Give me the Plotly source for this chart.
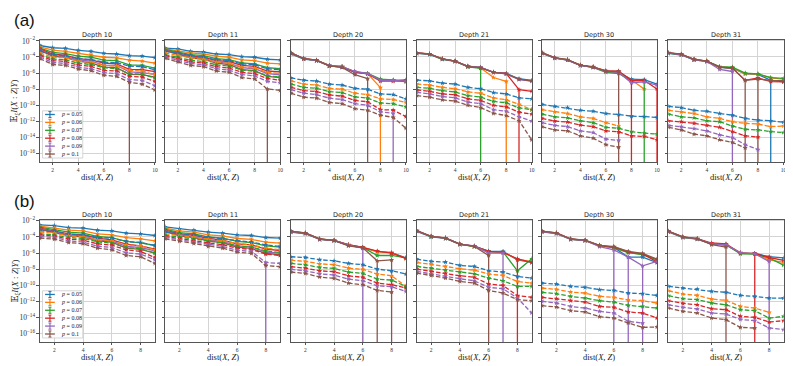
import plotly.graph_objects as go
from plotly.subplots import make_subplots

COLORS = ["#1f77b4", "#ff7f0e", "#2ca02c", "#d62728", "#9467bd", "#8c564b"]
P_VALUES = ["0.05", "0.06", "0.07", "0.08", "0.09", "0.1"]
DEPTHS = [10, 11, 20, 21, 30, 31]
DIST_A = [1, 2, 3, 4, 5, 6, 7, 8, 9, 10]
DIST_B = [1, 2, 3, 4, 5, 6, 7, 8, 9]

# values as log10, one row per p (0.05 ... 0.1)
# ---------------- (a) ----------------
A_D10_SOLID = [
    [-2.57, -2.85, -2.93, -3.18, -3.30, -3.54, -3.63, -3.83, -3.90, -4.07],
    [-2.73, -3.14, -3.30, -3.54, -3.70, -4.03, -4.11, -4.40, -4.52, -4.76],
    [-2.90, -3.42, -3.58, -3.90, -4.03, -4.40, -4.44, -4.97, -5.05, -5.37],
    [-3.00, -3.63, -3.79, -4.20, -4.36, -4.76, -4.85, -5.54, -5.58, -5.82],
    [-3.10, -3.79, -3.95, -4.36, -4.52, -5.00, -5.05, -5.86, -5.94, -6.15],
    [-3.18, -3.90, -4.07, -4.52, -4.72, -5.25, -5.33, -6.15, -6.20, -6.50],
]
A_D10_DASHED = [
    [-3.30, -3.70, -3.83, -4.20, -4.32, -4.64, -4.72, -5.13, -5.20, -5.58],
    [-3.50, -4.00, -4.11, -4.52, -4.64, -5.05, -5.13, -5.66, -5.74, -6.23],
    [-3.70, -4.24, -4.36, -4.76, -4.93, -5.33, -5.46, -6.07, -6.15, -6.63],
    [-3.83, -4.44, -4.56, -5.00, -5.17, -5.66, -5.74, -6.40, -6.51, -7.04],
    [-4.00, -4.68, -4.80, -5.25, -5.46, -5.94, -6.07, -6.80, -6.92, -7.57],
    [-4.20, -4.93, -5.05, -5.50, -5.70, -6.27, -6.40, -7.13, -7.37, -8.10],
]
A_D10_DROPS = [("dashed", 5, 8)]

A_D11_SOLID = [
    [-2.90, -3.00, -3.30, -3.38, -3.63, -3.70, -3.95, -4.03, -4.28, -4.36],
    [-2.98, -3.22, -3.50, -3.63, -3.90, -4.03, -4.36, -4.44, -4.76, -4.85],
    [-3.06, -3.38, -3.70, -3.83, -4.20, -4.32, -4.72, -4.85, -5.33, -5.46],
    [-3.14, -3.50, -3.87, -4.03, -4.44, -4.56, -5.05, -5.17, -5.74, -5.86],
    [-3.18, -3.58, -4.00, -4.16, -4.60, -4.76, -5.33, -5.46, -6.07, -6.23],
    [-3.22, -3.67, -4.11, -4.28, -4.76, -4.93, -5.58, -5.70, -6.40, -6.55],
]
A_D11_DASHED = [
    [-3.30, -3.54, -3.83, -4.00, -4.32, -4.44, -4.85, -4.97, -5.46, -5.58],
    [-3.50, -3.79, -4.11, -4.28, -4.64, -4.80, -5.25, -5.37, -5.90, -6.07],
    [-3.70, -4.03, -4.40, -4.56, -4.97, -5.13, -5.62, -5.78, -6.35, -6.47],
    [-3.83, -4.20, -4.60, -4.76, -5.20, -5.37, -5.90, -6.07, -6.67, -6.88],
    [-4.00, -4.40, -4.80, -4.97, -5.46, -5.62, -6.19, -6.35, -7.04, -7.20],
    [-4.16, -4.60, -5.05, -5.20, -5.74, -5.90, -6.55, -6.72, -7.98, -8.15],
]
A_D11_DROPS = [("dashed", 5, 9)]

A_D20_SOLID = [
    [-3.60, -4.25, -4.45, -5.10, -5.25, -5.90, -6.10, -6.85, -6.90, -6.85],
    [-3.50, -4.20, -4.40, -5.05, -5.20, -5.85, -6.05, -7.80, None, None],
    [-3.55, -4.20, -4.45, -5.05, -5.20, -5.85, -6.05, -6.75, -6.85, -7.10],
    [-3.50, -4.20, -4.40, -5.10, -5.25, -5.85, -6.10, -7.00, -7.00, -6.95],
    [-3.50, -4.20, -4.45, -5.05, -5.20, -5.80, -6.05, -6.90, -6.90, -7.00],
    [-3.50, -4.20, -4.40, -5.10, -5.30, -6.20, -6.70, None, None, None],
]
A_D20_DASHED = [
    [-6.59, -6.88, -7.00, -7.37, -7.49, -7.89, -8.00, -8.59, -8.67, -9.20],
    [-6.96, -7.37, -7.49, -7.89, -8.00, -8.50, -8.67, -9.20, -9.28, -9.64],
    [-7.37, -7.77, -7.89, -8.30, -8.42, -8.95, -9.11, -9.72, -9.80, -10.20],
    [-7.77, -8.18, -8.30, -8.70, -8.87, -9.40, -9.56, -10.54, -10.60, -11.40],
    [-8.06, -8.50, -8.67, -9.11, -9.28, -9.80, -10.00, -10.80, -11.00, None],
    [-8.50, -8.99, -9.11, -9.64, -9.80, -10.41, -10.62, -11.23, -11.50, -12.85],
]
A_D20_DROPS = [("solid", 1, 8), ("solid", 5, 7), ("dashed", 4, 9)]

A_D21_SOLID = [
    [-3.55, -3.68, -4.28, -4.55, -5.20, -5.33, -5.90, -6.05, -6.70, -6.92],
    [-3.50, -3.60, -4.24, -4.50, -5.15, -5.35, -6.55, -7.04, None, None],
    [-3.52, -3.65, -4.26, -4.52, -5.22, -5.40, None, None, None, None],
    [-3.48, -3.62, -4.22, -4.50, -5.17, -5.33, -5.92, -6.05, -8.06, -8.26],
    [-3.50, -3.63, -4.24, -4.52, -5.15, -5.28, -5.88, -6.10, -6.80, -7.00],
    [-3.50, -3.63, -4.24, -4.52, -5.17, -5.33, -5.90, -6.08, -6.76, -6.98],
]
A_D21_DASHED = [
    [-6.88, -6.96, -7.24, -7.37, -7.77, -7.94, -8.42, -8.59, -9.07, -9.20],
    [-7.37, -7.49, -7.77, -7.94, -8.34, -8.50, -9.07, -9.32, -9.89, -10.54],
    [-7.77, -7.89, -8.18, -8.34, -8.79, -8.99, -9.52, -9.68, -10.33, -10.54],
    [-8.10, -8.26, -8.59, -8.70, -9.20, -9.40, -10.00, -10.20, -10.86, -11.10],
    [-8.38, -8.59, -8.91, -9.07, -9.60, -9.80, -10.54, -10.74, -11.43, -11.96],
    [-8.79, -8.99, -9.32, -9.48, -10.00, -10.29, -11.00, -11.27, -11.92, -14.30],
]
A_D21_DROPS = [("solid", 2, 6), ("solid", 1, 8), ("solid", 3, 9)]

A_D30_SOLID = [
    [-3.55, -4.15, -4.38, -5.05, -5.25, -5.80, -5.90, -6.76, -6.80, -7.38],
    [-3.50, -4.10, -4.35, -5.00, -5.20, -5.75, -5.95, -6.85, -7.98, None],
    [-3.52, -4.12, -4.36, -5.05, -5.30, -5.90, -6.05, -6.95, -6.95, None],
    [-3.48, -4.10, -4.35, -5.02, -5.25, -5.70, -5.75, -6.90, -6.90, -7.98],
    [-3.50, -4.12, -4.38, -5.05, -5.28, -5.78, -5.92, -7.20, -7.10, -7.50],
    [-3.45, -4.08, -4.33, -5.00, -5.25, -5.75, -5.80, None, None, None],
]
A_D30_DASHED = [
    [-9.89, -10.13, -10.29, -10.62, -10.74, -11.02, -11.15, -11.35, -11.40, -11.51],
    [-10.54, -10.82, -11.02, -11.43, -11.63, -12.16, -12.57, None, None, None],
    [-11.10, -11.43, -11.55, -11.92, -12.16, -12.73, -12.85, -13.26, -13.46, -13.58],
    [-11.63, -11.96, -12.08, -12.45, -12.65, -13.18, -13.30, -13.79, -13.87, -14.28],
    [-12.16, -12.49, -12.65, -13.18, -13.38, -14.20, -14.36, None, None, None],
    [-12.65, -13.06, -13.18, -13.79, -14.07, -14.89, -15.20, None, None, None],
]
A_D30_DROPS = [("solid", 5, 7), ("solid", 3, 8), ("solid", 2, 9), ("solid", 3, 10)]

A_D31_SOLID = [
    [-3.55, -3.75, -4.35, -4.55, -5.30, -5.40, -6.10, -6.15, -6.90, -7.10],
    [-3.50, -3.68, -4.30, -4.50, -5.25, -5.35, -6.05, -6.12, -6.60, -6.75],
    [-3.52, -3.70, -4.32, -4.52, -5.20, -5.25, -6.00, -6.10, -6.55, -6.65],
    [-3.48, -3.68, -4.30, -4.52, -5.25, -5.35, -6.90, -6.60, -7.05, -7.10],
    [-3.50, -3.70, -4.35, -4.55, -5.55, -5.80, None, None, None, None],
    [-3.45, -3.65, -4.30, -4.50, -5.25, -5.40, -6.90, -6.75, -6.90, -6.95],
]
A_D31_DASHED = [
    [-10.13, -10.29, -10.62, -10.74, -11.02, -11.23, -11.63, -11.84, -11.92, -12.10],
    [-10.62, -10.82, -11.02, -11.43, -11.63, -12.04, -12.24, -12.33, -12.65, -12.57],
    [-11.10, -11.43, -11.55, -11.92, -12.04, -12.57, -12.98, -13.06, -13.26, -13.38],
    [-11.92, -12.04, -12.24, -12.49, -12.73, -13.26, -13.79, -13.95, None, None],
    [-12.49, -12.65, -12.89, -13.18, -13.67, -14.00, -14.89, -15.50, None, None],
    [-12.73, -13.06, -13.58, -13.79, -14.28, -14.60, -15.30, None, None, None],
]
A_D31_DROPS = [("solid", 4, 6), ("solid", 5, 7), ("solid", 5, 8), ("solid", 0, 9)]

# ---------------- (b) ----------------
B_D10_SOLID = [
    [-2.50, -2.58, -2.83, -2.91, -3.16, -3.24, -3.53, -3.61, -3.82],
    [-2.66, -2.91, -3.16, -3.24, -3.61, -3.74, -4.07, -4.23, -4.48],
    [-2.79, -3.12, -3.40, -3.53, -3.94, -4.07, -4.56, -4.73, -5.06],
    [-2.91, -3.24, -3.61, -3.74, -4.15, -4.36, -4.89, -5.10, -5.51],
    [-2.99, -3.40, -3.74, -3.86, -4.36, -4.48, -5.18, -5.31, -5.72],
    [-3.07, -3.49, -3.86, -3.98, -4.48, -4.64, -5.39, -5.55, -6.00],
]
B_D10_DASHED = [
    [-3.24, -3.32, -3.65, -3.74, -4.07, -4.15, -4.56, -4.69, -5.06],
    [-3.40, -3.53, -3.86, -3.98, -4.36, -4.48, -4.98, -5.10, -5.60],
    [-3.61, -3.74, -4.07, -4.19, -4.60, -4.77, -5.31, -5.47, -6.00],
    [-3.74, -3.90, -4.27, -4.40, -4.85, -5.02, -5.60, -5.80, -6.55],
    [-3.94, -4.07, -4.48, -4.64, -5.14, -5.31, -5.97, -6.13, -6.83],
    [-4.15, -4.27, -4.69, -4.85, -5.39, -5.60, -6.30, -6.46, -7.29],
]
B_D10_DROPS = []

B_D11_SOLID = [
    [-2.74, -2.99, -3.16, -3.40, -3.53, -3.74, -3.82, -4.07, -4.15],
    [-2.91, -3.24, -3.40, -3.74, -3.86, -4.19, -4.31, -4.64, -4.77],
    [-3.03, -3.45, -3.61, -3.98, -4.15, -4.56, -4.69, -5.10, -5.26],
    [-3.16, -3.61, -3.78, -4.19, -4.40, -4.85, -4.98, -5.51, -5.68],
    [-3.24, -3.74, -3.94, -4.36, -4.56, -5.10, -5.22, -5.88, -6.00],
    [-3.32, -3.86, -4.07, -4.48, -4.73, -5.26, -5.43, -6.05, -6.21],
]
B_D11_DASHED = [
    [-3.40, -3.61, -3.82, -4.07, -4.23, -4.48, -4.64, -4.98, -5.18],
    [-3.61, -3.82, -4.02, -4.31, -4.48, -4.81, -4.98, -5.39, -5.60],
    [-3.78, -4.02, -4.23, -4.56, -4.73, -5.10, -5.26, -5.72, -5.93],
    [-3.94, -4.19, -4.44, -4.77, -4.98, -5.39, -5.55, -6.13, -6.30],
    [-4.07, -4.36, -4.60, -4.98, -5.18, -5.64, -5.80, -7.17, -7.29],
    [-4.23, -4.52, -4.81, -5.18, -5.39, -5.88, -6.05, -7.54, -7.70],
]
B_D11_DROPS = [("dashed", 4, 8)]

B_D20_SOLID = [
    [-3.40, -3.60, -4.30, -4.45, -5.05, -5.35, -5.80, -5.95, -6.60],
    [-3.32, -3.50, -4.25, -4.42, -5.00, -5.30, -5.85, -5.95, -6.70],
    [-3.35, -3.55, -4.27, -4.44, -4.98, -5.30, -6.30, -6.30, -6.60],
    [-3.30, -3.52, -4.27, -4.44, -4.95, -5.28, -5.75, -6.00, -6.65],
    [-3.32, -3.53, -4.27, -4.44, -5.00, -5.40, None, None, None],
    [-3.30, -3.50, -4.25, -4.44, -5.10, -5.35, -6.96, -6.85, None],
]
B_D20_DASHED = [
    [-6.46, -6.55, -6.83, -6.96, -7.29, -7.45, -7.99, -8.20, -8.61],
    [-6.88, -7.04, -7.33, -7.45, -7.87, -8.03, -8.61, -8.82, -10.14],
    [-7.29, -7.45, -7.79, -7.91, -8.36, -8.53, -9.23, -9.36, -10.14],
    [-7.70, -7.87, -8.20, -8.32, -8.82, -9.02, -9.73, -9.93, -10.35],
    [-8.03, -8.20, -8.57, -8.74, -9.23, -9.44, -10.06, -10.18, -10.76],
    [-8.36, -8.53, -8.98, -9.15, -9.73, -9.93, -10.64, -10.84, None],
]
B_D20_DROPS = [("solid", 4, 6), ("solid", 5, 7), ("solid", 5, 8)]

B_D21_SOLID = [
    [-3.30, -4.00, -4.18, -4.92, -5.15, -5.75, -5.80, -6.85, -7.17],
    [-3.24, -3.94, -4.15, -4.89, -5.18, -5.85, -5.90, -6.75, -7.10],
    [-3.26, -3.96, -4.15, -4.90, -5.20, -5.80, -5.85, -8.20, -6.71],
    [-3.22, -3.92, -4.12, -4.88, -5.15, -5.80, -5.92, -6.71, -7.17],
    [-3.24, -3.94, -4.15, -4.89, -5.10, -6.00, -6.00, None, None],
    [-3.22, -3.92, -4.15, -4.89, -5.18, -6.30, None, None, None],
]
B_D21_DASHED = [
    [-6.75, -7.04, -7.12, -7.54, -7.66, -8.20, -8.36, -8.90, -9.11],
    [-7.17, -7.37, -7.66, -7.95, -8.12, -8.61, -8.78, -9.52, -9.73],
    [-7.66, -7.87, -8.12, -8.36, -8.57, -9.11, -9.44, -10.14, -10.14],
    [-7.99, -8.28, -8.53, -8.82, -9.02, -9.85, -10.02, -11.30, -11.50],
    [-8.28, -8.61, -8.86, -9.19, -9.44, -10.26, -10.43, -11.59, -13.45],
    [-8.49, -8.78, -9.11, -9.52, -9.73, -10.64, -10.97, -11.79, -11.92],
]
B_D21_DROPS = [("solid", 5, 6), ("solid", 4, 7), ("solid", 3, 8)]

B_D30_SOLID = [
    [-3.38, -3.58, -4.30, -4.45, -5.12, -5.30, -6.50, -6.50, -7.20],
    [-3.32, -3.53, -4.27, -4.44, -5.10, -5.26, -5.95, -6.15, -6.80],
    [-3.34, -3.55, -4.27, -4.44, -5.05, -5.35, -5.95, -6.20, -6.85],
    [-3.30, -3.50, -4.25, -4.42, -5.08, -5.22, -5.85, -6.10, -7.10],
    [-3.32, -3.53, -4.27, -4.44, -5.20, -5.60, -6.50, -7.58, -7.04],
    [-3.28, -3.48, -4.25, -4.40, -5.05, -5.20, -5.80, -6.05, -6.75],
]
B_D30_DASHED = [
    [-9.73, -9.85, -10.14, -10.26, -10.55, -10.64, -10.97, -11.05, -11.26],
    [-10.35, -10.51, -10.84, -10.97, -11.38, -11.50, -11.83, -11.92, -12.21],
    [-10.88, -11.05, -11.38, -11.59, -11.92, -12.09, -12.50, -12.63, -12.83],
    [-11.50, -11.67, -11.92, -12.09, -12.63, -12.75, -13.32, -13.45, -14.07],
    [-12.00, -12.21, -12.63, -12.83, -13.24, -13.45, -14.48, -14.69, None],
    [-12.54, -12.70, -13.16, -13.32, -13.90, -14.07, -14.69, -15.23, -15.18],
]
B_D30_DROPS = [("solid", 4, 6), ("solid", 4, 7), ("solid", 4, 8)]

B_D31_SOLID = [
    [-3.38, -4.08, -4.28, -4.90, -5.00, -6.00, -6.05, -6.45, -6.60],
    [-3.32, -4.02, -4.23, -4.85, -4.98, -5.95, -6.10, -6.85, -7.17],
    [-3.34, -4.04, -4.25, -4.87, -4.95, -6.10, -6.12, -6.60, -7.50],
    [-3.30, -4.00, -4.20, -4.75, -4.85, -6.00, -6.05, -6.55, -6.90],
    [-3.32, -4.02, -4.23, -4.85, -4.98, -5.95, -6.09, -7.04, None],
    [-3.28, -3.98, -4.20, -4.95, -5.26, None, None, None, None],
]
B_D31_DASHED = [
    [-10.14, -10.35, -10.47, -10.76, -10.88, -11.26, -11.38, -11.59, -11.59],
    [-10.68, -11.09, -11.26, -11.71, -11.88, -12.63, -12.83, -13.36, None],
    [-11.30, -11.67, -11.79, -12.21, -12.42, -13.03, -13.16, -14.07, -13.86],
    [-11.92, -12.25, -12.42, -12.91, -13.03, -13.86, -13.98, -14.57, -14.40],
    [-12.42, -12.74, -12.95, -13.45, -13.57, -14.24, -14.40, -15.31, -15.51],
    [-12.83, -13.24, -13.45, -14.07, -14.28, -15.23, -15.31, None, None],
]
B_D31_DROPS = [("solid", 5, 5), ("solid", 3, 7), ("solid", 4, 8)]

PANELS_A = [
    (A_D10_SOLID, A_D10_DASHED, A_D10_DROPS), (A_D11_SOLID, A_D11_DASHED, A_D11_DROPS),
    (A_D20_SOLID, A_D20_DASHED, A_D20_DROPS), (A_D21_SOLID, A_D21_DASHED, A_D21_DROPS),
    (A_D30_SOLID, A_D30_DASHED, A_D30_DROPS), (A_D31_SOLID, A_D31_DASHED, A_D31_DROPS),
]
PANELS_B = [
    (B_D10_SOLID, B_D10_DASHED, B_D10_DROPS), (B_D11_SOLID, B_D11_DASHED, B_D11_DROPS),
    (B_D20_SOLID, B_D20_DASHED, B_D20_DROPS), (B_D21_SOLID, B_D21_DASHED, B_D21_DROPS),
    (B_D30_SOLID, B_D30_DASHED, B_D30_DROPS), (B_D31_SOLID, B_D31_DASHED, B_D31_DROPS),
]

# the page body has an 8px margin, so the figure is shrunk and every
# page position below is shifted by it
PAGE_OFF = 8
W, H = 793 - PAGE_OFF, 366 - PAGE_OFF
COL_LEFT = [40, 165.7, 292, 418.3, 544, 671]  # page px
COL_W = 115.5
ROW_TOP = [36, 218]
ROW_H = 124
SERIF = "Liberation Serif, DejaVu Serif, serif"
SANS = "DejaVu Sans, sans-serif"


def px_x(px):
    return (px - PAGE_OFF) / W


def px_y(py):
    return (H - (py - PAGE_OFF)) / H


fig = make_subplots(rows=2, cols=6)


def add_panel(row, col, dist, solid, dashed, drops):
    for style, series in (("solid", solid), ("dashed", dashed)):
        for k, logs in enumerate(series):
            y = [None if v is None else 10 ** v for v in logs]
            minus = [0] * len(y)
            for s, kk, d in drops:
                if s == style and kk == k:
                    i = dist.index(d)
                    minus[i] = 3 * y[i]  # lower bound below zero -> bar runs off the log axis
            fig.add_trace(go.Scatter(
                x=dist, y=y, mode="lines+markers", showlegend=False,
                line=dict(color=COLORS[k], width=1.3,
                          dash="solid" if style == "solid" else "4.5px,2px"),
                marker=dict(symbol="star", size=4, color=COLORS[k], line=dict(width=0)),
                error_y=dict(type="data", symmetric=False, array=[0] * len(y),
                             arrayminus=minus, color=COLORS[k], thickness=1.3, width=1.5),
            ), row=row, col=col)


for c, (s, d, dr) in enumerate(PANELS_A):
    add_panel(1, c + 1, DIST_A, s, d, dr)
for c, (s, d, dr) in enumerate(PANELS_B):
    add_panel(2, c + 1, DIST_B, s, d, dr)

annotations = []
shapes = []
for r in range(2):
    dist = DIST_A if r == 0 else DIST_B
    for c in range(6):
        n = r * 6 + c + 1
        sx = "" if n == 1 else str(n)
        x0 = px_x(COL_LEFT[c])
        x1 = px_x(COL_LEFT[c] + COL_W)
        fig.layout["xaxis" + sx].update(
            domain=[x0, x1], range=[dist[0], dist[-1]], dtick=2, tick0=0,
            showgrid=True, gridcolor="#d4d4d4", gridwidth=0.9,
            showline=True, mirror=True, linecolor="#555555", linewidth=1.1,
            ticks="outside", ticklen=2, tickwidth=0.8, tickcolor="#555555",
            tickfont=dict(family=SERIF, size=5.5, color="#333333"), zeroline=False,
        )
        fig.layout["yaxis" + sx].update(
            domain=[px_y(ROW_TOP[r] + ROW_H), px_y(ROW_TOP[r])], type="log",
            range=[-17.08, -1.85], dtick=2, tick0=0,
            exponentformat="power", showexponent="all",
            showgrid=True, gridcolor="#d4d4d4", gridwidth=0.9,
            showline=True, mirror=True, linecolor="#555555", linewidth=1.1,
            ticks="outside", ticklen=2.5, tickwidth=0.8, tickcolor="#555555",
            showticklabels=(c == 0),
            tickfont=dict(family=SERIF, size=6, color="#333333"), zeroline=False,
        )
        xm = (x0 + x1) / 2
        annotations.append(dict(
            text="Depth %d" % DEPTHS[c], x=xm, y=px_y(ROW_TOP[r] - 5),
            xref="paper", yref="paper", xanchor="center", yanchor="middle",
            showarrow=False, font=dict(family=SANS, size=6.5, color="#222222")))
        annotations.append(dict(
            text="dist(<i>X</i>, <i>Z</i>)", x=xm, y=px_y(ROW_TOP[r] + ROW_H + 15),
            xref="paper", yref="paper", xanchor="center", yanchor="middle",
            showarrow=False, font=dict(family=SERIF, size=8.5, color="#222222")))

    # y label and panel letter
    annotations.append(dict(
        text="𝔼<sub>ξ</sub><i>I</i>(<i>X</i> : <i>Z</i>|<i>Y</i>)", textangle=-90,
        x=px_x(15.5), y=px_y(ROW_TOP[r] + ROW_H / 2), xref="paper", yref="paper",
        xanchor="center", yanchor="middle", showarrow=False,
        font=dict(family=SERIF, size=9, color="#222222")))
    annotations.append(dict(
        text="(a)" if r == 0 else "(b)", x=px_x(12), y=px_y(17 if r == 0 else 200),
        xref="paper", yref="paper", xanchor="left", yanchor="middle", showarrow=False,
        font=dict(family="Liberation Sans, Arial, sans-serif", size=17, color="#111111")))

    # legend box inside the first panel of the row
    axn = "" if r == 0 else "7"
    xr, yr = "x%s domain" % axn, "y%s domain" % axn
    shapes.append(dict(type="rect", xref=xr, yref=yr, x0=0.023, x1=0.373, y0=0.035, y1=0.42,
                       fillcolor="rgba(255,255,255,0.85)", line=dict(color="#cccccc", width=0.8)))
    for k in range(6):
        yd = 0.39 - k * 0.0645
        shapes.append(dict(type="line", xref=xr, yref=yr, x0=0.045, x1=0.13, y0=yd, y1=yd,
                           line=dict(color=COLORS[k], width=1.3)))
        shapes.append(dict(type="line", xref=xr, yref=yr, x0=0.0875, x1=0.0875, y0=yd - 0.025,
                           y1=yd + 0.025, line=dict(color=COLORS[k], width=1.2)))
        for yy in (yd - 0.025, yd + 0.025):
            shapes.append(dict(type="line", xref=xr, yref=yr, x0=0.074, x1=0.101, y0=yy, y1=yy,
                               line=dict(color=COLORS[k], width=1)))
        annotations.append(dict(
            text="<i>p</i> = %s" % P_VALUES[k], x=0.165, y=yd, xref=xr, yref=yr,
            xanchor="left", yanchor="middle", showarrow=False,
            font=dict(family=SERIF, size=6, color="#222222")))

fig.update_layout(
    width=W, height=H, margin=dict(l=0, r=0, t=0, b=0),
    paper_bgcolor="white", plot_bgcolor="white", showlegend=False,
    annotations=annotations, shapes=shapes,
)

fig.write_html("out.html")
